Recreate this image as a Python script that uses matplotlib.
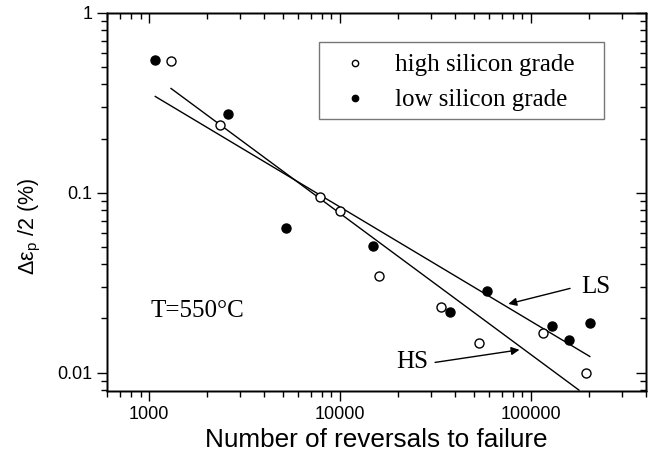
import matplotlib
matplotlib.use('Agg')
import matplotlib.pyplot as plt
from matplotlib.patches import Rectangle

# High silicon grade (open circles)
hs_n = [1300, 2350, 7800, 10000, 15900, 33800, 53600, 116000, 193000]
hs_e = [0.54, 0.238, 0.095, 0.079, 0.0344, 0.0233, 0.0146, 0.0166, 0.0100]

# Low silicon grade (filled circles)
ls_n = [1075, 2570, 5210, 14900, 37700, 59000, 128000, 158000, 203000]
ls_e = [0.548, 0.274, 0.0634, 0.0508, 0.0216, 0.0284, 0.0182, 0.0152, 0.0188]

# Fit lines (end points)
hs_fit_n = [1300, 178000]
hs_fit_e = [0.38, 0.0080]
ls_fit_n = [1075, 203000]
ls_fit_e = [0.343, 0.0123]

SERIF = 'Liberation Serif'
SANS = 'Liberation Sans'

fig = plt.figure(figsize=(6.64, 4.59), dpi=100)
ax = fig.add_axes([0.161, 0.148, 0.812, 0.824])

ax.plot(hs_fit_n, hs_fit_e, '-', color='black', linewidth=1.0)
ax.plot(ls_fit_n, ls_fit_e, '-', color='black', linewidth=1.0)
ax.plot(hs_n, hs_e, 'o', mfc='white', mec='black', mew=1.0, ms=6.5,
        linestyle='none', label='high silicon grade')
ax.plot(ls_n, ls_e, 'o', mfc='black', mec='black', ms=6.5,
        linestyle='none', label='low silicon grade')

ax.set_xscale('log')
ax.set_yscale('log')
ax.set_xlim(600, 400000)
ax.set_ylim(0.0079, 1)

ax.set_xticks([1000, 10000, 100000])
ax.set_xticklabels(['1000', '10000', '100000'], family=SANS, fontsize=13)
ax.set_yticks([0.01, 0.1, 1])
ax.set_yticklabels(['0.01', '0.1', '1'], family=SANS, fontsize=13)
ax.tick_params(which='major', direction='out', length=7, width=1)
ax.tick_params(which='minor', direction='out', length=4, width=1)

# top/right ticks point inwards
axt = ax.twiny()
axt.set_xscale('log')
axt.set_xlim(ax.get_xlim())
axt.tick_params(which='major', direction='in', length=7, width=1, labeltop=False)
axt.tick_params(which='minor', direction='in', length=4, width=1)
axr = ax.twinx()
axr.set_yscale('log')
axr.set_ylim(ax.get_ylim())
axr.tick_params(which='major', direction='in', length=7, width=1, labelright=False)
axr.tick_params(which='minor', direction='in', length=4, width=1)

for a in (ax, axt, axr):
    for s in a.spines.values():
        s.set_linewidth(1.0)

ax.set_xlabel('Number of reversals to failure', family=SANS, fontsize=18.8)
ax.set_ylabel('Δε$_\\mathregular{p}$ /2 (%)', family=SANS, fontsize=15.5)
ax.yaxis.set_label_coords(-0.119, 0.434)

ax.text(1020, 0.0221, 'T=550°C', family=SERIF, fontsize=18, va='center')

arrow = dict(arrowstyle='-|>', color='black', lw=1.0, mutation_scale=12,
             shrinkA=0, shrinkB=0)
ax.annotate('', xy=(76000, 0.0241), xytext=(160000, 0.0294), arrowprops=arrow)
ax.text(184000, 0.030, 'LS', family=SERIF, fontsize=18, va='center')
ax.annotate('', xy=(86900, 0.0134), xytext=(31400, 0.0114), arrowprops=arrow)
ax.text(29000, 0.0115, 'HS', family=SERIF, fontsize=18, va='center', ha='right')

# legend drawn without frame, box added separately (wider right padding)
ax.legend(loc='upper left', bbox_to_anchor=(0.3915, 0.918),
          prop={'family': SERIF, 'size': 18}, markerscale=0.7,
          frameon=False, handlelength=2.2, handletextpad=0.5,
          borderpad=0.4, labelspacing=0.5, borderaxespad=0)
ax.add_patch(Rectangle((0.393, 0.720), 0.529, 0.203, transform=ax.transAxes,
                       fill=False, edgecolor='#777777', linewidth=1.0, zorder=5))

fig.savefig('out.png', dpi=100)
